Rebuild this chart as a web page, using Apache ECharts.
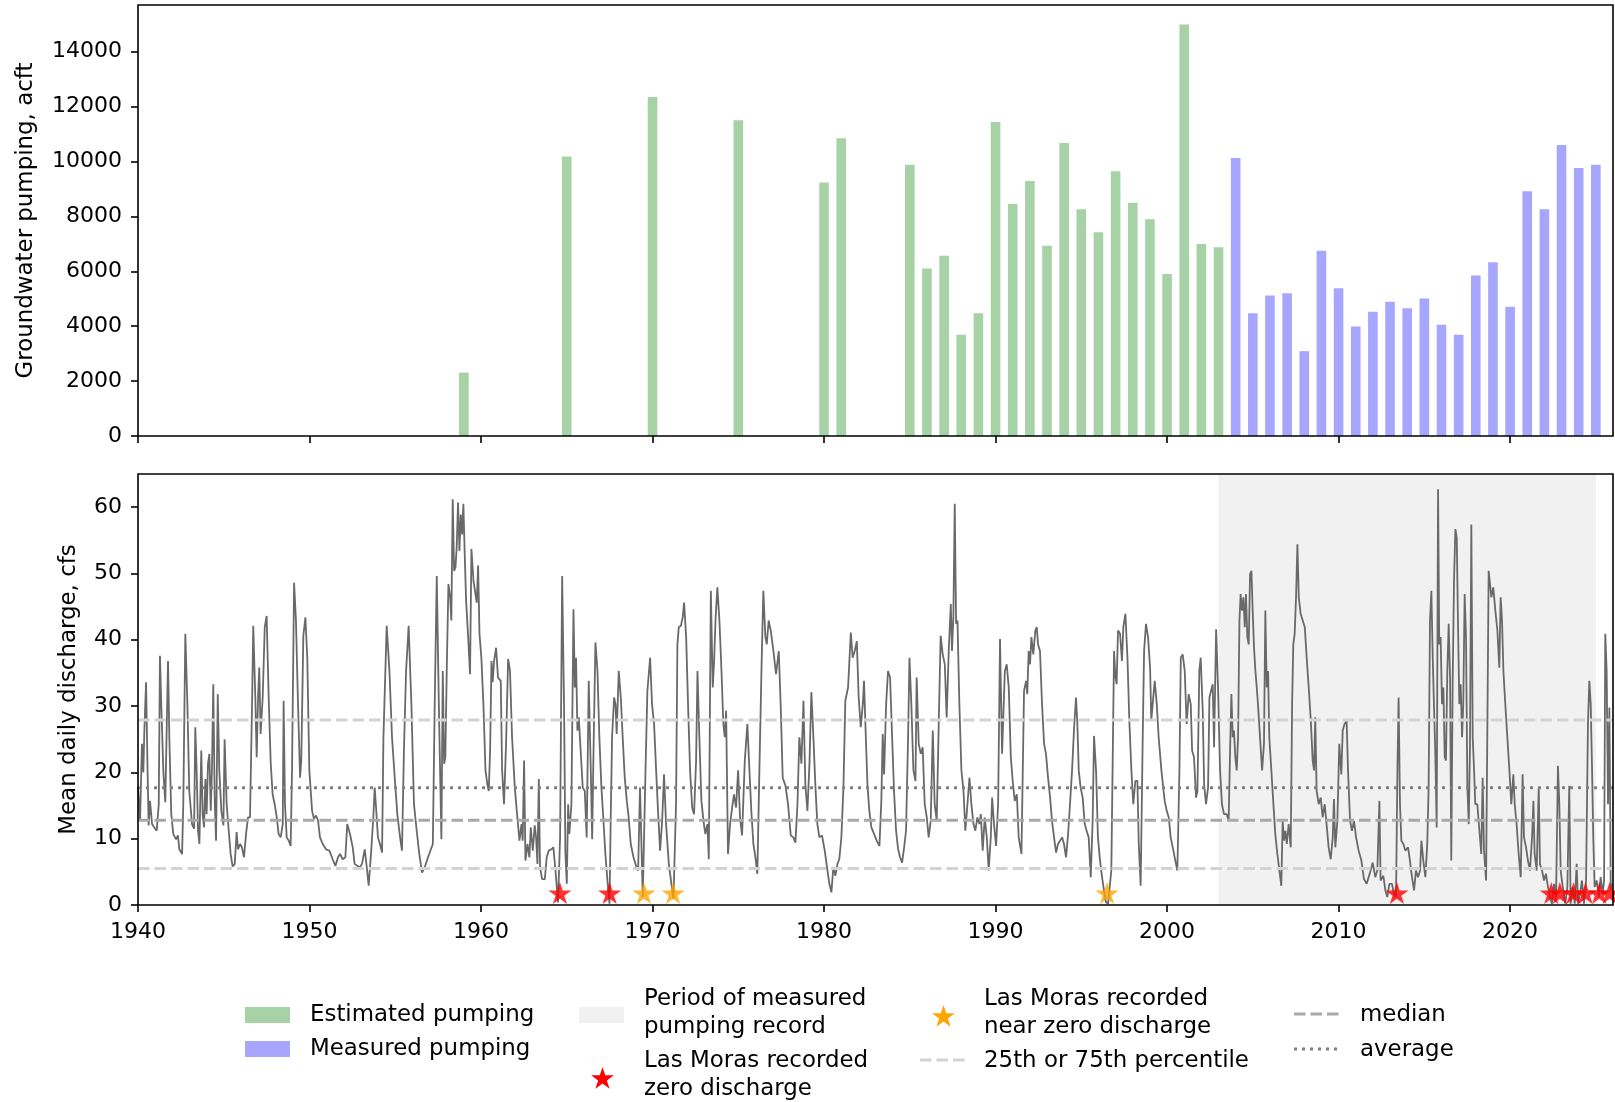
<!DOCTYPE html>
<html><head><meta charset="utf-8">
<script src="https://cdn.jsdelivr.net/npm/echarts@6/dist/echarts.min.js"></script>
<style>html,body{margin:0;padding:0;background:#fff}#c{width:1615px;height:1102px}</style>
</head><body><div id="c"></div>
<script>
// ---------------- DATA ----------------
const yearTicks = [1940, 1950, 1960, 1970, 1980, 1990, 2000, 2010, 2020];
const pumpTicks = [0, 2000, 4000, 6000, 8000, 10000, 12000, 14000];
const flowTicks = [0, 10, 20, 30, 40, 50, 60];

const estYears = [1959, 1965, 1970, 1975, 1980, 1981, 1985, 1986, 1987, 1988, 1989, 1990, 1991, 1992, 1993, 1994, 1995, 1996, 1997, 1998, 1999, 2000, 2001, 2002, 2003];
const estPumping = [2310, 10180, 12350, 11500, 9230, 10850, 9880, 6100, 6570, 3690, 4470, 11440, 8450, 9290, 6930, 10670, 8260, 7420, 9640, 8500, 7900, 5900, 14990, 6990, 6880];
const measYears = [2004, 2005, 2006, 2007, 2008, 2009, 2010, 2011, 2012, 2013, 2014, 2015, 2016, 2017, 2018, 2019, 2020, 2021, 2022, 2023, 2024, 2025];
const measPumping = [10130, 4470, 5120, 5200, 3090, 6750, 5380, 3990, 4530, 4890, 4650, 5010, 4050, 3690, 5850, 6330, 4710, 8920, 8260, 10600, 9760, 9880];

// Mean daily discharge, cfs  [decimal year, cfs]
const discharge = [
[1940.00,17.7],[1940.12,12.7],[1940.23,24.3],[1940.31,20.0],[1940.37,26.3],[1940.47,33.6],[1940.56,20.0],[1940.62,12.0],[1940.70,15.7],[1940.82,12.2],
[1940.95,11.7],[1941.09,11.2],[1941.21,15.2],[1941.28,37.6],[1941.36,30.0],[1941.48,20.0],[1941.59,15.5],[1941.75,36.8],[1941.83,25.0],[1941.94,13.7],
[1942.06,10.7],[1942.22,9.9],[1942.33,10.5],[1942.41,8.4],[1942.57,7.7],[1942.64,15.2],[1942.76,40.9],[1942.88,30.3],[1942.99,17.2],[1943.15,12.2],
[1943.27,11.5],[1943.34,26.8],[1943.42,20.3],[1943.50,11.2],[1943.58,9.2],[1943.69,23.3],[1943.77,13.7],[1943.85,11.7],[1943.93,19.0],[1944.00,13.7],
[1944.08,21.3],[1944.16,22.8],[1944.24,14.2],[1944.31,20.3],[1944.39,33.3],[1944.47,16.2],[1944.55,9.7],[1944.65,31.8],[1944.74,20.3],[1944.86,14.2],
[1944.98,12.0],[1945.05,25.0],[1945.17,15.2],[1945.29,11.2],[1945.40,7.7],[1945.52,5.8],[1945.64,6.2],[1945.75,11.0],[1945.83,8.4],[1945.95,9.2],
[1946.06,8.7],[1946.18,7.2],[1946.30,10.7],[1946.41,13.2],[1946.53,13.2],[1946.65,30.3],[1946.72,42.1],[1946.84,31.3],[1946.92,22.3],[1947.00,31.3],
[1947.07,35.8],[1947.15,25.8],[1947.27,31.3],[1947.39,41.9],[1947.50,43.6],[1947.62,31.3],[1947.74,21.3],[1947.85,16.7],[1947.97,15.2],[1948.09,13.2],
[1948.20,10.7],[1948.32,10.2],[1948.44,12.2],[1948.49,30.8],[1948.57,15.2],[1948.67,10.2],[1948.79,9.7],[1948.90,8.9],[1948.98,20.3],[1949.10,48.6],
[1949.21,42.9],[1949.33,30.3],[1949.45,19.2],[1949.52,21.8],[1949.64,40.6],[1949.76,43.4],[1949.87,37.3],[1949.99,20.3],[1950.15,14.2],[1950.26,13.0],
[1950.38,13.5],[1950.50,12.7],[1950.61,10.2],[1950.77,9.2],[1950.96,8.4],[1951.16,8.2],[1951.35,6.9],[1951.51,5.9],[1951.66,7.2],[1951.78,7.7],
[1951.93,6.9],[1952.09,7.2],[1952.20,12.2],[1952.36,10.7],[1952.52,8.7],[1952.63,6.2],[1952.79,5.9],[1952.94,5.7],[1953.06,6.2],[1953.22,8.4],
[1953.33,5.9],[1953.45,2.9],[1953.61,8.7],[1953.72,13.2],[1953.80,17.7],[1953.88,14.7],[1953.99,10.2],[1954.11,9.2],[1954.23,7.9],[1954.31,25.3],
[1954.50,42.1],[1954.66,35.3],[1954.81,25.3],[1954.97,19.2],[1955.12,13.7],[1955.28,10.2],[1955.39,8.2],[1955.51,23.8],[1955.63,35.3],[1955.78,42.1],
[1955.94,30.3],[1956.09,15.2],[1956.25,11.2],[1956.40,7.7],[1956.56,4.9],[1956.72,5.7],[1956.91,7.2],
[1957.19,9.2],[1957.30,30.3],[1957.42,49.6],[1957.54,30.3],[1957.69,9.9],[1957.77,35.3],[1957.85,21.3],[1957.92,22.3],[1958.00,35.3],[1958.10,48.4],
[1958.20,46.4],[1958.27,42.9],[1958.35,61.2],[1958.43,50.4],[1958.51,50.9],[1958.58,53.9],[1958.66,60.7],[1958.74,53.4],[1958.82,58.9],[1958.90,55.9],
[1958.97,60.5],[1959.05,52.9],[1959.13,45.9],[1959.25,40.4],[1959.36,34.8],[1959.44,53.7],[1959.56,48.9],[1959.67,48.9],[1959.75,45.6],[1959.83,51.2],
[1959.91,40.9],[1960.02,37.3],[1960.14,30.3],[1960.26,20.3],[1960.37,18.2],[1960.45,17.2],[1960.53,23.3],[1960.61,36.8],[1960.68,33.6],[1960.76,36.8],
[1960.88,38.8],[1960.99,34.3],[1961.15,33.8],[1961.23,20.3],[1961.34,15.2],[1961.46,24.3],[1961.58,37.1],[1961.69,35.3],[1961.81,25.3],[1961.97,17.7],
[1962.12,13.2],[1962.24,9.7],[1962.36,12.2],[1962.43,9.7],[1962.51,21.8],[1962.59,6.7],[1962.71,9.2],[1962.82,7.2],[1962.90,11.7],[1963.02,8.2],
[1963.13,12.0],[1963.21,10.2],[1963.29,6.2],[1963.37,19.0],[1963.44,5.7],[1963.56,3.9],[1963.72,3.9],[1963.83,7.2],[1963.95,8.2],[1964.10,8.4],
[1964.22,8.7],[1964.34,5.2],[1964.49,0.4],[1964.61,10.2],[1964.73,49.6],[1964.84,30.3],[1964.92,7.7],[1965.00,3.2],[1965.08,15.2],[1965.15,10.7],
[1965.27,15.2],[1965.39,44.6],[1965.47,32.8],[1965.54,37.3],[1965.62,26.3],[1965.70,28.3],[1965.82,22.8],[1965.93,17.7],[1966.05,17.2],[1966.16,10.2],
[1966.28,33.8],[1966.40,20.3],[1966.48,9.9],[1966.55,21.8],[1966.67,39.6],[1966.79,35.3],[1966.90,25.3],[1967.02,17.7],[1967.14,12.7],[1967.25,7.7],
[1967.37,3.7],[1967.49,0.2],[1967.56,12.7],[1967.64,25.3],[1967.76,31.3],[1967.84,30.3],[1967.91,25.8],[1968.03,35.3],[1968.15,31.3],[1968.26,25.3],
[1968.38,19.2],[1968.50,15.7],[1968.61,13.2],[1968.73,9.2],[1968.89,7.2],[1969.04,5.9],[1969.16,5.2],[1969.27,17.7],[1969.43,1.2],[1969.59,20.3],
[1969.70,32.3],[1969.86,37.3],[1969.97,30.3],[1970.09,27.3],[1970.21,20.3],[1970.32,14.2],[1970.44,8.2],[1970.56,12.7],[1970.67,19.7],[1970.79,12.2],
[1970.95,6.2],[1971.10,3.2],[1971.22,0.9],[1971.37,15.2],[1971.45,39.3],[1971.53,41.9],[1971.65,42.1],[1971.76,43.4],[1971.84,45.6],[1971.96,40.4],
[1972.07,30.3],[1972.19,20.3],[1972.31,14.7],[1972.42,13.7],[1972.54,21.8],[1972.62,35.3],[1972.73,25.3],[1972.85,15.7],[1972.97,12.7],[1973.08,10.7],
[1973.20,12.2],[1973.28,6.9],[1973.40,47.4],[1973.51,32.8],[1973.59,36.8],[1973.67,42.9],[1973.78,47.9],[1973.90,42.9],[1974.02,35.3],[1974.13,27.3],
[1974.21,25.3],[1974.29,29.3],
[1974.40,7.7],[1974.52,12.2],[1974.64,14.7],[1974.75,16.7],[1974.87,14.7],[1974.99,20.3],[1975.10,13.2],[1975.22,10.5],[1975.38,21.8],[1975.53,27.3],
[1975.65,20.3],[1975.76,14.2],[1975.88,9.2],[1976.00,7.2],[1976.11,4.7],[1976.23,20.3],[1976.35,35.3],[1976.46,47.4],[1976.58,40.4],[1976.66,39.3],
[1976.77,42.9],[1976.89,41.4],[1977.05,38.3],[1977.20,34.8],[1977.36,38.3],[1977.47,30.3],[1977.59,19.2],[1977.75,18.0],[1977.90,15.2],[1978.06,10.5],
[1978.21,10.2],[1978.33,9.4],[1978.45,15.2],[1978.56,25.3],[1978.68,21.3],[1978.80,30.8],[1978.91,18.2],[1979.03,14.2],[1979.15,21.3],[1979.26,32.1],
[1979.38,25.3],[1979.50,17.7],[1979.61,12.2],[1979.73,10.2],[1979.88,10.5],[1980.04,8.2],[1980.20,5.2],[1980.31,3.2],[1980.43,1.9],[1980.54,5.7],
[1980.66,4.4],[1980.78,6.2],[1980.89,6.9],[1981.01,10.2],[1981.13,17.7],[1981.24,30.8],[1981.40,32.8],[1981.56,41.1],[1981.67,37.3],[1981.79,38.3],
[1981.91,39.8],[1982.02,31.3],[1982.14,26.8],[1982.26,30.3],[1982.33,33.8],[1982.41,27.3],[1982.53,18.2],[1982.64,14.2],[1982.76,11.7],[1982.92,10.7],
[1983.07,9.7],[1983.23,8.9],[1983.34,15.7],[1983.42,25.8],[1983.50,19.7],[1983.62,30.3],[1983.73,35.3],[1983.85,34.3],[1983.97,25.3],[1984.08,17.2],
[1984.20,11.2],[1984.32,8.4],[1984.43,7.2],[1984.55,6.4],[1984.67,8.7],[1984.78,11.2],[1984.90,25.3],[1984.98,37.3],[1985.09,30.3],[1985.21,20.3],
[1985.33,18.7],[1985.40,34.3],[1985.52,24.3],[1985.64,22.8],[1985.75,23.8],[1985.87,15.2],[1985.99,13.2],[1986.10,10.2],[1986.22,12.7],[1986.34,26.3],
[1986.45,15.2],[1986.57,12.7],[1986.69,27.8],[1986.80,40.6],[1986.92,37.8],[1987.04,36.3],[1987.15,28.3],[1987.27,38.3],[1987.39,45.4],[1987.46,38.3],
[1987.54,43.4],[1987.62,60.5],[1987.70,42.4],[1987.78,42.9],[1987.89,30.3],[1988.01,20.3],[1988.13,17.2],[1988.24,11.2],[1988.36,15.2],[1988.48,19.2],
[1988.59,15.2],[1988.71,12.2],[1988.82,11.2],[1988.94,13.2],[1989.06,12.2],[1989.14,13.7],[1989.25,8.2],[1989.37,13.2],[1989.49,10.2],[1989.60,5.2],
[1989.72,10.2],[1989.80,16.2],[1989.91,12.2],[1990.03,8.9],[1990.15,15.2],[1990.26,40.1],[1990.38,22.8],[1990.46,22.8],[1990.54,35.3],[1990.65,36.3],
[1990.77,32.8],[1990.89,22.3],[1991.00,18.7],[1991.12,15.7],[1991.24,16.7],[1991.35,10.2],[1991.51,7.7],
[1991.66,32.3],[1991.78,33.8],[1991.85,31.8],[1991.93,38.3],[1992.01,36.3],[1992.09,40.4],[1992.20,37.8],[1992.32,41.4],[1992.40,41.9],[1992.48,39.3],
[1992.59,38.3],[1992.71,30.3],[1992.83,24.3],[1992.94,22.8],[1993.06,19.2],[1993.18,16.2],[1993.29,12.7],[1993.41,10.2],[1993.53,7.9],[1993.64,9.2],
[1993.76,9.7],[1993.88,10.2],[1993.99,9.2],[1994.11,7.2],[1994.23,10.7],[1994.34,15.2],[1994.46,20.3],[1994.58,26.8],[1994.69,31.3],[1994.77,27.3],
[1994.85,20.3],[1994.96,17.7],[1995.08,16.2],[1995.20,12.2],[1995.31,11.2],[1995.43,10.2],[1995.55,4.2],[1995.66,12.7],[1995.74,25.5],[1995.86,20.3],
[1995.97,10.2],[1996.09,6.7],[1996.21,4.2],[1996.32,2.2],[1996.44,0.4],[1996.56,0.2],[1996.67,0.4],[1996.75,5.2],[1996.87,30.3],[1996.91,38.3],
[1996.99,34.3],[1997.06,33.3],[1997.14,41.4],[1997.26,40.9],[1997.37,36.8],[1997.45,41.9],[1997.57,43.9],[1997.69,37.3],[1997.80,27.8],[1997.92,20.3],
[1998.03,15.2],[1998.15,18.7],[1998.27,18.7],[1998.35,9.2],[1998.46,2.9],[1998.58,25.3],[1998.66,38.3],[1998.77,42.4],[1998.89,40.4],[1999.01,35.8],
[1999.08,27.8],[1999.16,30.3],[1999.28,33.8],[1999.40,30.3],[1999.51,25.3],[1999.67,20.3],[1999.86,15.7],[1999.98,14.2],[2000.10,13.2],[2000.21,10.2],
[2000.37,8.2],[2000.48,6.7],[2000.60,5.2],[2000.72,20.3],[2000.80,37.3],[2000.91,37.8],[2001.03,35.3],[2001.14,27.3],[2001.26,31.8],[2001.38,30.3],
[2001.46,23.3],[2001.57,22.3],[2001.69,16.2],[2001.77,17.2],[2001.88,35.3],[2001.96,37.3],[2002.08,29.3],[2002.16,18.2],[2002.27,15.2],[2002.39,17.7],
[2002.47,31.3],[2002.58,31.3],[2002.66,33.3],[2002.74,23.8],[2002.86,41.6],[2002.97,32.8],[2003.09,20.3],[2003.20,15.2],[2003.32,13.7],[2003.48,13.7],
[2003.59,12.7],[2003.67,22.8],[2003.75,31.8],[2003.83,25.3],[2003.90,26.3],[2003.98,22.3],[2004.06,20.3],[2004.14,25.3],[2004.22,42.9],[2004.29,46.9],
[2004.37,44.4],[2004.45,46.4],[2004.53,41.9],[2004.60,46.9],[2004.68,40.4],[2004.76,39.3],[2004.84,49.9],[2004.92,50.4],[2004.99,44.4],[2005.07,38.8],
[2005.15,35.3],[2005.23,32.8],[2005.30,30.3],[2005.42,25.3],[2005.54,20.3],[2005.65,24.3],[2005.73,44.4],[2005.81,32.8],[2005.89,35.3],[2005.96,25.3],
[2006.08,20.3],[2006.20,15.2],[2006.31,10.7],[2006.43,7.7],[2006.55,5.2],[2006.66,2.9],[2006.74,12.7],[2006.82,9.7],[2006.90,11.2],[2006.98,9.2],
[2007.09,12.2],[2007.21,8.7],[2007.29,30.3],[2007.36,39.3],[2007.44,40.9],[2007.52,46.4],[2007.60,54.4],[2007.68,46.4],[2007.79,43.9],[2007.91,42.9],
[2008.03,41.9],[2008.14,37.3],[2008.26,32.8],[2008.38,27.8],[2008.49,21.8],
[2008.57,20.3],[2008.64,28.3],[2008.72,17.2],[2008.84,15.2],[2008.96,16.2],[2009.07,13.2],[2009.19,15.2],[2009.30,12.2],[2009.42,8.7],[2009.54,6.9],
[2009.66,10.2],[2009.73,16.0],[2009.81,8.7],[2009.93,12.7],[2010.04,24.3],[2010.16,19.7],[2010.24,26.3],[2010.35,27.3],[2010.47,27.8],[2010.55,20.3],
[2010.67,12.7],[2010.78,11.2],[2010.90,12.7],[2011.02,10.2],[2011.17,8.2],[2011.33,6.7],[2011.48,3.9],[2011.64,3.2],[2011.75,4.2],[2011.87,5.2],
[2011.99,6.4],[2012.14,4.2],[2012.26,5.2],[2012.38,15.7],[2012.45,3.7],[2012.61,4.4],[2012.73,2.2],[2012.84,1.2],[2012.96,3.2],[2013.11,3.2],
[2013.23,1.7],[2013.35,1.2],[2013.43,20.3],[2013.50,31.3],[2013.58,15.2],[2013.66,9.7],[2013.78,9.2],[2013.89,8.2],[2014.05,8.7],[2014.16,6.7],
[2014.28,4.2],[2014.40,2.2],[2014.51,5.2],[2014.63,4.2],[2014.75,5.2],[2014.83,9.7],[2014.94,6.7],[2015.06,4.2],[2015.17,9.2],[2015.25,17.7],
[2015.33,42.9],[2015.41,47.4],[2015.49,37.3],[2015.56,30.3],[2015.64,22.8],[2015.72,11.7],[2015.80,62.7],[2015.87,39.3],[2015.95,40.4],[2016.03,30.3],
[2016.11,32.8],[2016.19,22.3],[2016.26,21.8],[2016.34,35.3],[2016.42,42.4],[2016.50,34.3],[2016.57,6.7],[2016.65,33.3],[2016.73,48.9],[2016.81,56.7],
[2016.89,55.4],[2016.96,42.9],[2017.04,30.3],[2017.12,33.3],[2017.20,25.3],[2017.27,30.3],[2017.35,46.9],[2017.43,40.4],[2017.51,17.7],[2017.59,12.2],
[2017.66,23.8],[2017.74,57.4],[2017.82,25.3],[2017.90,20.3],[2017.97,15.2],[2018.09,15.2],[2018.21,11.2],[2018.32,7.7],[2018.40,19.2],[2018.48,8.2],
[2018.60,3.7],[2018.67,25.3],[2018.75,50.4],[2018.83,48.4],[2018.91,46.4],[2019.02,47.9],[2019.14,44.4],[2019.26,41.4],[2019.37,35.8],[2019.45,46.4],
[2019.53,42.9],[2019.61,35.3],[2019.72,30.3],[2019.84,25.3],[2019.96,20.3],[2020.07,15.2],[2020.19,19.7],[2020.27,15.2],[2020.38,12.2],[2020.50,7.7],
[2020.62,4.2],[2020.73,19.7],[2020.81,10.2],[2020.93,8.7],[2021.04,6.7],[2021.16,5.2],[2021.28,10.2],[2021.36,15.7],[2021.43,7.7],[2021.55,5.2],
[2021.67,17.7],[2021.74,6.2],[2021.86,5.2],[2021.98,3.7],[2022.09,4.7],[2022.21,2.7],[2022.33,1.2],[2022.44,0.2],[2022.56,3.2],[2022.68,1.2],
[2022.79,21.0],[2022.87,15.2],[2022.95,5.2],[2023.07,2.7],[2023.22,0.2],[2023.34,2.7],[2023.45,18.0],[2023.53,0.2],[2023.65,2.7],[2023.77,0.2],
[2023.88,6.2],[2023.96,0.2],[2024.08,1.7],[2024.19,3.7],[2024.31,0.2],[2024.43,3.7],[2024.54,27.3],[2024.62,33.8],[2024.70,30.3],[2024.78,20.3],
[2024.85,10.2],[2024.93,2.7],[2025.05,3.7],[2025.17,1.2],[2025.28,4.2],[2025.40,1.7],[2025.48,3.7],[2025.55,40.9],[2025.63,35.3],[2025.71,15.2],
[2025.79,29.8],[2025.87,2.2],[2025.94,3.2]
];

const zeroFlowYears = [1964.6, 1967.5, 2013.4, 2022.4, 2022.9, 2023.7, 2024.4, 2025.2, 2025.8];
const nearZeroYears = [1969.5, 1971.2, 1996.5];
const starLevel = 1.8;

const q25 = 5.5, medianFlow = 12.8, meanFlow = 17.7, q75 = 27.9;
const measuredPeriod = [2003.0, 2025.0];

// ---------------- STYLE ----------------
const FONT = 'DejaVu Sans';
const FS_TICK = 22;
const FS = 22.9;
const GREEN = '#a6d2a6', BLUE = '#a6a6ff', SHADE = '#f1f1f1';
const LINE = '#696969';
const C25 = '#d3d3d3', CMED = '#a9a9a9', CAVG = '#808080';
const DASH = [11.5, 5], DOT = [3, 5];

function starPts(cx, cy, R) {
  const pts = [];
  for (let i = 0; i < 10; i++) {
    const r = i % 2 === 0 ? R : R * 0.382;
    const a = -Math.PI / 2 + i * Math.PI / 5;
    pts.push([cx + r * Math.cos(a), cy + r * Math.sin(a)]);
  }
  return pts;
}
const starSymbol = 'path://' + starPts(0, 0, 10).map((p, i) => (i ? 'L' : 'M') + p[0].toFixed(3) + ' ' + p[1].toFixed(3)).join(' ') + ' Z';

const fmt = v => String(v);
function xAx(idx, showLabel) {
  return {
    gridIndex: idx, type: 'value', min: 1940, max: 2026,
    axisLine: { show: false }, splitLine: { show: false },
    axisTick: { show: true, length: 7, lineStyle: { color: '#000', width: 1.6 }, customValues: yearTicks },
    axisLabel: { show: showLabel, customValues: yearTicks, formatter: fmt, fontSize: FS_TICK, fontFamily: FONT, color: '#000', margin: 16 }
  };
}
function yAx(idx, max, ticks, name, gap) {
  return {
    gridIndex: idx, type: 'value', min: 0, max: max,
    name: name, nameLocation: 'middle', nameRotate: 90, nameGap: gap,
    nameTextStyle: { fontSize: FS, fontFamily: FONT, color: '#000' },
    axisLine: { show: false }, splitLine: { show: false },
    axisTick: { show: true, length: 7, lineStyle: { color: '#000', width: 1.6 }, customValues: ticks },
    axisLabel: { customValues: ticks, formatter: fmt, fontSize: FS_TICK, fontFamily: FONT, color: '#000', margin: 16 }
  };
}
function hline(name, v, color, dash) {
  return {
    name: name, type: 'line', xAxisIndex: 1, yAxisIndex: 1, z: 4,
    data: [[1940, v], [2026, v]], symbol: 'none', silent: true,
    lineStyle: { color: color, width: 3, type: dash }
  };
}

const legendText = (x, y, t) => ({
  type: 'text', x: x, y: y,
  style: { text: t, fontSize: FS, fontFamily: FONT, fill: '#000', verticalAlign: 'middle', align: 'left', lineHeight: 28 }
});

const option = {
  animation: false,
  backgroundColor: '#fff',
  grid: [
    { left: 138, top: 5, width: 1475, height: 431, show: true, borderColor: '#000', borderWidth: 1.6, backgroundColor: 'transparent', z: 10 },
    { left: 138, top: 474, width: 1475, height: 431, show: true, borderColor: '#000', borderWidth: 1.6, backgroundColor: 'transparent', z: 10 }
  ],
  xAxis: [xAx(0, false), xAx(1, true)],
  yAxis: [
    yAx(0, 15700, pumpTicks, 'Groundwater pumping, acft', 100),
    yAx(1, 65, flowTicks, 'Mean daily discharge, cfs', 57)
  ],
  series: [
    {
      name: 'Estimated pumping', type: 'bar', xAxisIndex: 0, yAxisIndex: 0, barWidth: 9.6, barGap: '-100%',
      data: estYears.map((y, i) => [y, estPumping[i]]), itemStyle: { color: GREEN }, silent: true
    },
    {
      name: 'Measured pumping', type: 'bar', xAxisIndex: 0, yAxisIndex: 0, barWidth: 9.6, barGap: '-100%',
      data: measYears.map((y, i) => [y, measPumping[i]]), itemStyle: { color: BLUE }, silent: true
    },
    {
      name: 'Period of measured pumping record', type: 'custom', xAxisIndex: 1, yAxisIndex: 1, z: 1, silent: true,
      data: [measuredPeriod],
      renderItem: function (params, api) {
        const cs = params.coordSys;
        const a = api.coord([api.value(0), 0])[0];
        const b = api.coord([api.value(1), 0])[0];
        return { type: 'rect', shape: { x: a, y: cs.y, width: b - a, height: cs.height }, style: { fill: SHADE } };
      }
    },
    {
      name: 'Discharge', type: 'line', xAxisIndex: 1, yAxisIndex: 1, z: 3, data: discharge,
      symbol: 'none', sampling: false, silent: true, lineStyle: { color: LINE, width: 1.8 }
    },
    hline('25th or 75th percentile', q75, C25, DASH),
    hline('25th or 75th percentile', q25, C25, DASH),
    hline('median', medianFlow, CMED, DASH),
    hline('average', meanFlow, CAVG, DOT),
    {
      name: 'Las Moras recorded zero discharge', type: 'scatter', xAxisIndex: 1, yAxisIndex: 1, z: 6,
      data: zeroFlowYears.map(y => [y, starLevel]), symbol: starSymbol, symbolSize: [23, 22],
      itemStyle: { color: '#ff0000' }, silent: true
    },
    {
      name: 'Las Moras recorded near zero discharge', type: 'scatter', xAxisIndex: 1, yAxisIndex: 1, z: 6,
      data: nearZeroYears.map(y => [y, starLevel]), symbol: starSymbol, symbolSize: [23, 22],
      itemStyle: { color: '#ffa500' }, silent: true
    }
  ],
  graphic: [
    { type: 'rect', shape: { x: 245, y: 1007, width: 45, height: 16 }, style: { fill: GREEN } },
    legendText(310, 1015, 'Estimated pumping'),
    { type: 'rect', shape: { x: 245, y: 1041, width: 45, height: 16 }, style: { fill: BLUE } },
    legendText(310, 1049, 'Measured pumping'),
    { type: 'rect', shape: { x: 579, y: 1007, width: 45, height: 16 }, style: { fill: SHADE } },
    legendText(644, 1013, 'Period of measured\npumping record'),
    { type: 'polygon', shape: { points: starPts(602.5, 1079, 12) }, style: { fill: '#ff0000' } },
    legendText(644, 1075, 'Las Moras recorded\nzero discharge'),
    { type: 'polygon', shape: { points: starPts(943.5, 1017, 12) }, style: { fill: '#ffa500' } },
    legendText(984, 1013, 'Las Moras recorded\nnear zero discharge'),
    { type: 'line', shape: { x1: 920, y1: 1060, x2: 966, y2: 1060 }, style: { stroke: C25, lineWidth: 3, lineDash: DASH } },
    legendText(984, 1061, '25th or 75th percentile'),
    { type: 'line', shape: { x1: 1294, y1: 1014, x2: 1340, y2: 1014 }, style: { stroke: CMED, lineWidth: 3, lineDash: DASH } },
    legendText(1360, 1015, 'median'),
    { type: 'line', shape: { x1: 1294, y1: 1049, x2: 1340, y2: 1049 }, style: { stroke: CAVG, lineWidth: 3, lineDash: DOT } },
    legendText(1360, 1050, 'average')
  ]
};

const chart = echarts.init(document.getElementById('c'), null, { renderer: 'canvas' });
chart.setOption(option);
</script></body></html>
